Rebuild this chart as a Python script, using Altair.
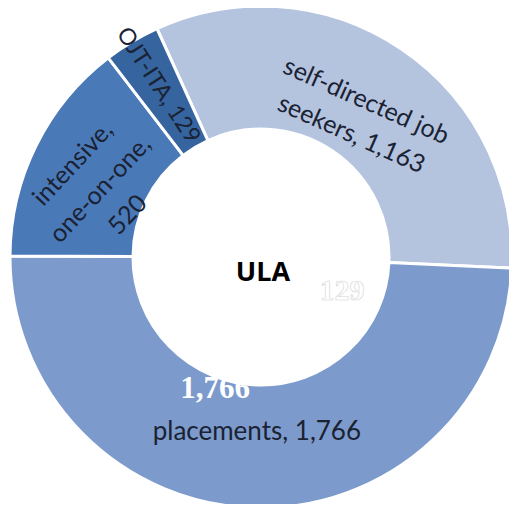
import altair as alt
import pandas as pd
import math

categories = ["self-directed job seekers", "placements", "intensive, one-on-one", "OJT-ITA"]
values = [1163, 1766, 520, 129]
label_texts = ["self-directed job\nseekers, 1,163", "placements, 1,766", "intensive,\none-on-one,\n520", "OJT-ITA, 129"]
colors = ["#b4c4df", "#7c9bcc", "#4a79b8", "#35649f"]

df = pd.DataFrame({
    "category": categories,
    "value": values,
    "idx": list(range(len(categories))),
    "label": label_texts,
})

start = math.radians(-24.5)
theta_scale = alt.Scale(range=[start, start + 2 * math.pi])

base = alt.Chart(df).encode(
    theta=alt.Theta("value:Q", stack=True, scale=theta_scale),
    order=alt.Order("idx:Q"),
)

cx, cy = 253, 249

arcs = base.mark_arc(innerRadius=128, outerRadius=251, stroke="white", strokeWidth=3).encode(
    color=alt.Color("category:N", scale=alt.Scale(domain=categories, range=colors), legend=None),
    x=alt.value(cx), y=alt.value(cy),
)

label_specs = [
    ("self-directed job seekers", 188, 24, 25, 1.45),
    ("placements", 175, 0, 26, 1.3),
    ("intensive, one-on-one", 210, 313, 25, 1.5),
    ("OJT-ITA", 200, 57, 23, 1.3),
]

layers = [arcs]
for cat, r, ang, fs, lh in label_specs:
    layers.append(
        base.mark_text(radius=r, angle=ang, fontSize=fs, font="Lato", color="#1a2233",
                       lineBreak="\n", lineHeight=fs * lh, align="center", baseline="middle").encode(
            text=alt.condition(alt.datum.category == cat, "label:N", alt.value("")),
            x=alt.value(cx), y=alt.value(cy),
        )
    )

center = alt.Chart(pd.DataFrame({"t": ["ULA"]})).mark_text(
    fontSize=27, fontWeight="bold", font="Open Sans", color="black").encode(
    text="t:N", x=alt.value(cx + 2), y=alt.value(cy + 16)
)

ghost1 = alt.Chart(pd.DataFrame({"t": ["1,766"]})).mark_text(
    fontSize=31, fontWeight="bold", font="Liberation Serif", color="white").encode(
    text="t:N", x=alt.value(cx - 46), y=alt.value(cy + 132))
ghost2 = alt.Chart(pd.DataFrame({"t": ["129"]})).mark_text(
    fontSize=30, fontWeight="bold", font="Liberation Serif", color="white",
    stroke="#d4d4d4", strokeWidth=0.6).encode(
    text="t:N", x=alt.value(cx + 81), y=alt.value(cy + 34))

chart = alt.layer(*layers, center, ghost1, ghost2).properties(
    width=501, height=496, padding=0, autosize=alt.AutoSizeParams(type="none")
).configure_view(stroke=None)

chart.save("out.html", embed_options={"renderer": "svg", "actions": False})
